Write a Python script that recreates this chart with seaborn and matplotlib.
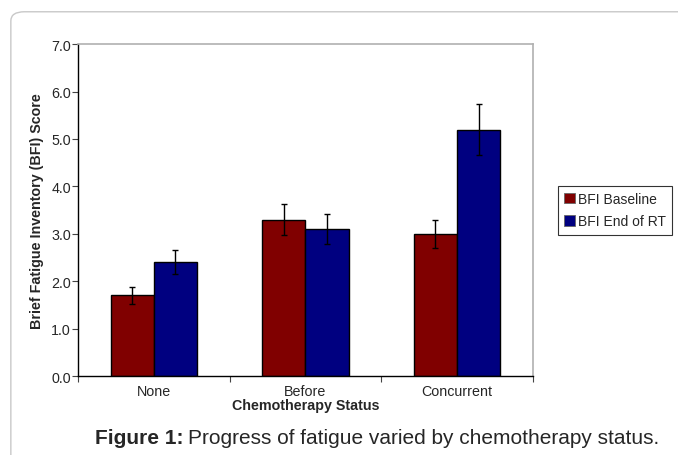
import numpy as np
import pandas as pd
import seaborn as sns
import matplotlib.pyplot as plt
from matplotlib.patches import FancyBboxPatch
from matplotlib.ticker import FormatStrFormatter, FixedLocator

categories = ["None", "Before", "Concurrent"]
series = ["BFI Baseline", "BFI End of RT"]
baseline = [1.7, 3.3, 3.0]
end_of_rt = [2.4, 3.1, 5.2]
baseline_err = [0.17, 0.32, 0.30]
end_err = [0.25, 0.31, 0.53]
colors = ["#800000", "#000080"]

df = pd.DataFrame({
    "status": categories * 2,
    "series": [series[0]] * 3 + [series[1]] * 3,
    "score": baseline + end_of_rt,
})

sns.set_style("white")
plt.rcParams["font.family"] = ["Liberation Sans", "DejaVu Sans"]

fig = plt.figure(figsize=(6.78, 4.56), dpi=100)
ax = fig.add_axes([0.115, 0.173, 0.671, 0.728])

sns.barplot(data=df, x="status", y="score", hue="series", palette=colors,
            saturation=1, width=0.57, edgecolor="black", linewidth=1,
            errorbar=None, ax=ax, legend=True)

# error bars on bar centres
errs = baseline_err + end_err
for bar, e in zip(ax.patches[:6], errs):
    cx = bar.get_x() + bar.get_width() / 2
    ax.errorbar(cx, bar.get_height(), yerr=e, fmt="none", ecolor="black",
                elinewidth=1, capsize=2.5, capthick=1)

ax.set_ylim(0, 7)
ax.set_xlim(-0.5, 2.5)
ax.set_yticks(np.arange(0, 7.1, 1))
ax.yaxis.set_major_formatter(FormatStrFormatter("%.1f"))
ax.tick_params(axis="y", left=True, direction="out", length=4, width=0.8,
               labelsize=10.3, pad=1, color="#444444")
ax.tick_params(axis="x", bottom=False, labelsize=10.3, pad=2)
ax.xaxis.set_minor_locator(FixedLocator([-0.5, 0.5, 1.5, 2.5]))
ax.tick_params(axis="x", which="minor", bottom=True, direction="out",
               length=4, width=0.8, color="#444444")

for side in ["left", "bottom"]:
    ax.spines[side].set_color("black")
    ax.spines[side].set_linewidth(1)
for side in ["top", "right"]:
    ax.spines[side].set_color("#b0b0b0")
    ax.spines[side].set_linewidth(1.2)

ax.set_xlabel("Chemotherapy Status", fontsize=10.3, fontweight="bold", labelpad=0)
ax.set_ylabel("Brief Fatigue Inventory (BFI) Score", fontsize=10.3,
              fontweight="bold", labelpad=5)

leg = ax.legend(loc="center left", bbox_to_anchor=(1.055, 0.5), frameon=True,
                fancybox=False, edgecolor="black", fontsize=10,
                handlelength=0.75, handleheight=0.75, handletextpad=0.25,
                borderpad=0.45, labelspacing=0.6, borderaxespad=0)
leg.get_frame().set_linewidth(0.8)
for h in leg.legend_handles:
    h.set_edgecolor("#666666")
    h.set_linewidth(0.6)

# outer rounded frame (bottom edge runs off the page)
frame = FancyBboxPatch((0.016, -0.1), 1.1, 1.072, boxstyle="round,pad=0,rounding_size=0.02",
                       transform=fig.transFigure, fill=False, edgecolor="#c8c8c8",
                       linewidth=1, clip_on=False)
fig.patches.append(frame)

# caption: bold label followed by plain text
t1 = fig.text(0.14, 0.027, "Figure 1:", fontsize=15, fontweight="bold",
              ha="left", va="baseline")
fig.canvas.draw()
bb = t1.get_window_extent()
x2 = (bb.x1 + 5) / fig.bbox.width
fig.text(x2, 0.027, "Progress of fatigue varied by chemotherapy status.",
         fontsize=15, ha="left", va="baseline")

fig.savefig("out.png", dpi=100)
